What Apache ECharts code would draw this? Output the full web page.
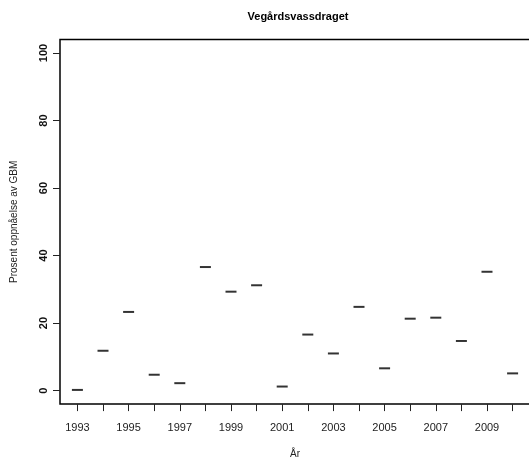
<!DOCTYPE html>
<html>
<head>
<meta charset="utf-8">
<script src="https://cdn.jsdelivr.net/npm/echarts@6/dist/echarts.min.js"></script>
<style>html,body{margin:0;padding:0;background:#fff;}#c{width:529px;height:466px;}</style>
</head>
<body>
<div id="c"></div>
<script>
const years = [1993,1994,1995,1996,1997,1998,1999,2000,2001,2002,2003,2004,2005,2006,2007,2008,2009,2010];
const values = [0.2,11.8,23.3,4.7,2.2,36.6,29.3,31.2,1.2,16.6,11.0,24.8,6.6,21.3,21.6,14.7,35.2,5.1];
const xLabelYears = [1993,1995,1997,1999,2001,2003,2005,2007,2009];
const yTicks = [0,20,40,60,80,100];

const chart = echarts.init(document.getElementById('c'), null, {renderer:'canvas'});
const font = 'Liberation Sans, Arial, Helvetica, sans-serif';
chart.setOption({
  animation: false,
  backgroundColor: '#fff',
  title: {
    text: 'Vegårdsvassdraget',
    left: 293, top: 6, textAlign: 'center',
    textStyle: {fontFamily: font, fontSize: 11, fontWeight: 'bold', color: '#000'}
  },
  grid: {
    left: 60, top: 39.5, width: 470, height: 364.6,
    containLabel: false, outerBoundsMode: 'none',
    show: true, borderColor: '#000', borderWidth: 1.5, backgroundColor: 'transparent'
  },
  xAxis: {
    type: 'value',
    min: 1992.32, max: 2010.68,
    name: 'År', nameLocation: 'middle', nameGap: 45,
    nameTextStyle: {fontFamily: font, fontSize: 10, color: '#222'},
    splitLine: {show: false},
    axisLine: {show: false, onZero: false},
    axisTick: {show: true, length: 7, customValues: years, lineStyle: {color: '#222', width: 1}},
    axisLabel: {customValues: xLabelYears, margin: 18, fontFamily: font, fontSize: 11, color: '#222', formatter: v => String(v)}
  },
  yAxis: {
    type: 'value',
    min: -4, max: 104,
    name: 'Prosent oppnåelse av GBM', nameLocation: 'middle', nameGap: 41, nameRotate: 90,
    nameTextStyle: {fontFamily: font, fontSize: 10, color: '#222'},
    splitLine: {show: false},
    axisLine: {show: false, onZero: false},
    axisTick: {show: true, length: 7, customValues: yTicks, lineStyle: {color: '#222', width: 1}},
    axisLabel: {customValues: yTicks, rotate: 90, margin: 11, fontFamily: font, fontSize: 11, fontWeight: 'bold', color: '#111'}
  },
  series: [{
    type: 'scatter',
    data: years.map((y, i) => [y, values[i]]),
    symbol: 'rect',
    symbolSize: [11, 2],
    itemStyle: {color: '#000'}
  }]
});
</script>
</body>
</html>
